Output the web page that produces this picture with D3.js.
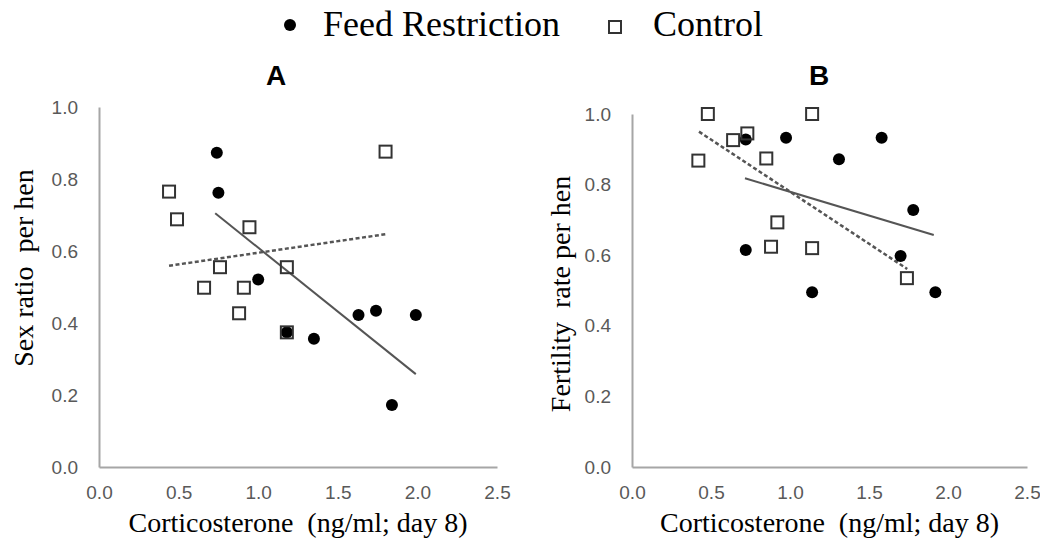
<!DOCTYPE html>
<html>
<head>
<meta charset="utf-8">
<script src="https://cdn.jsdelivr.net/npm/d3@7"></script>
<style>
  html, body { margin: 0; padding: 0; background: #fff; }
  svg { display: block; }
  text { white-space: pre; }
</style>
</head>
<body>
<svg id="chart" width="1040" height="543"></svg>
<script>
// ---------- data ----------
const seriesNames = ["Feed Restriction", "Control"];
const panelTitles = ["A", "B"];
const yLabels = ["Sex ratio  per hen", "Fertility  rate per hen"];
const xLabel = "Corticosterone  (ng/ml; day 8)";
const xTicks = [0, 0.5, 1.0, 1.5, 2.0, 2.5];
const yTicks = [0, 0.2, 0.4, 0.6, 0.8, 1.0];

// Panel A – sex ratio
const aFeedX = [0.74, 0.75, 1.00, 1.18, 1.35, 1.63, 1.74, 1.84, 1.99];
const aFeedY = [0.873, 0.762, 0.521, 0.374, 0.356, 0.422, 0.434, 0.172, 0.422];
const aCtrlX = [0.44, 0.49, 0.66, 0.76, 0.88, 0.91, 0.945, 1.18, 1.18, 1.80];
const aCtrlY = [0.765, 0.688, 0.498, 0.555, 0.427, 0.498, 0.666, 0.555, 0.374, 0.876];
const aFeedTrendX = [0.73, 1.99];
const aFeedTrendY = [0.705, 0.258];
const aCtrlTrendX = [0.44, 1.805];
const aCtrlTrendY = [0.559, 0.647];

// Panel B – fertility rate
const bFeedX = [0.72, 0.72, 0.975, 1.14, 1.31, 1.58, 1.70, 1.78, 1.92];
const bFeedY = [0.928, 0.615, 0.933, 0.495, 0.872, 0.933, 0.598, 0.728, 0.495];
const bCtrlX = [0.42, 0.48, 0.64, 0.73, 0.85, 0.88, 0.92, 1.14, 1.14, 1.74];
const bCtrlY = [0.868, 1.0, 0.926, 0.945, 0.874, 0.624, 0.693, 1.0, 0.62, 0.535];
const bFeedTrendX = [0.715, 1.91];
const bFeedTrendY = [0.818, 0.657];
const bCtrlTrendX = [0.424, 1.742];
const bCtrlTrendY = [0.95, 0.561];

// ---------- drawing ----------
const svg = d3.select("#chart");
const SERIF = "'Liberation Serif', 'Times New Roman', serif";
const SANS = "'Liberation Sans', Arial, sans-serif";

const zip = (xs, ys) => xs.map((x, i) => ({x, y: ys[i]}));

const panels = [
  {title: panelTitles[0], yLabel: yLabels[0], xr: [99, 497], yr: [467, 107],
   feed: zip(aFeedX, aFeedY), ctrl: zip(aCtrlX, aCtrlY),
   feedTrend: zip(aFeedTrendX, aFeedTrendY), ctrlTrend: zip(aCtrlTrendX, aCtrlTrendY),
   titleX: 276, yLabelX: 24, yLabelY: 268},
  {title: panelTitles[1], yLabel: yLabels[1], xr: [632, 1027], yr: [467, 114],
   feed: zip(bFeedX, bFeedY), ctrl: zip(bCtrlX, bCtrlY),
   feedTrend: zip(bFeedTrendX, bFeedTrendY), ctrlTrend: zip(bCtrlTrendX, bCtrlTrendY),
   titleX: 819, yLabelX: 561, yLabelY: 294}
];

panels.forEach(p => {
  const x = d3.scaleLinear().domain([0, 2.5]).range(p.xr);
  const y = d3.scaleLinear().domain([0, 1]).range(p.yr);
  const g = svg.append("g");

  // axes
  const xAxis = g.append("g")
    .attr("transform", `translate(0,${p.yr[0]})`)
    .call(d3.axisBottom(x).tickValues(xTicks).tickSize(0).tickPadding(19).tickFormat(d3.format(".1f")));
  const yAxis = g.append("g")
    .attr("transform", `translate(${p.xr[0]},0)`)
    .call(d3.axisLeft(y).tickValues(yTicks).tickSize(0).tickPadding(21).tickFormat(d3.format(".1f")));
  [xAxis, yAxis].forEach(a => {
    a.select(".domain").attr("stroke", "#a6a6a6").attr("stroke-width", 2);
    a.selectAll("text").attr("font-family", SANS).attr("font-size", 19).attr("fill", "#595959");
  });

  // trend lines
  const line = d3.line().x(d => x(d.x)).y(d => y(d.y));
  g.append("path").datum(p.feedTrend).attr("d", line)
    .attr("fill", "none").attr("stroke", "#555").attr("stroke-width", 2);
  g.append("path").datum(p.ctrlTrend).attr("d", line)
    .attr("fill", "none").attr("stroke", "#555").attr("stroke-width", 2.5)
    .attr("stroke-dasharray", "4,2.5");

  // points
  g.selectAll(".feed").data(p.feed).enter().append("circle")
    .attr("cx", d => x(d.x)).attr("cy", d => y(d.y)).attr("r", 6).attr("fill", "#000");
  const s = 12;
  g.selectAll(".ctrl").data(p.ctrl).enter().append("rect")
    .attr("x", d => x(d.x) - s / 2).attr("y", d => y(d.y) - s / 2)
    .attr("width", s).attr("height", s)
    .attr("fill", "none").attr("stroke", "#333").attr("stroke-width", 2);

  // title
  g.append("text").attr("x", p.titleX).attr("y", 85).attr("text-anchor", "middle")
    .attr("font-family", SANS).attr("font-weight", "bold").attr("font-size", 28)
    .attr("fill", "#000").text(p.title);

  // axis titles
  g.append("text").attr("x", (p.xr[0] + p.xr[1]) / 2).attr("y", 532).attr("text-anchor", "middle")
    .attr("font-family", SERIF).attr("font-size", 28).attr("fill", "#000").text(xLabel);
  g.append("text")
    .attr("transform", `translate(${p.yLabelX + 9},${p.yLabelY}) rotate(-90)`)
    .attr("text-anchor", "middle")
    .attr("font-family", SERIF).attr("font-size", 28).attr("fill", "#000").text(p.yLabel);
});

// legend
const leg = svg.append("g");
leg.append("circle").attr("cx", 290).attr("cy", 25).attr("r", 6).attr("fill", "#000");
leg.append("text").attr("x", 323).attr("y", 36).attr("font-family", SERIF).attr("font-size", 36)
  .attr("fill", "#000").text(seriesNames[0]);
leg.append("rect").attr("x", 609).attr("y", 21).attr("width", 12).attr("height", 12)
  .attr("fill", "none").attr("stroke", "#333").attr("stroke-width", 2);
leg.append("text").attr("x", 653).attr("y", 36).attr("font-family", SERIF).attr("font-size", 36)
  .attr("fill", "#000").text(seriesNames[1]);
</script>
</body>
</html>
